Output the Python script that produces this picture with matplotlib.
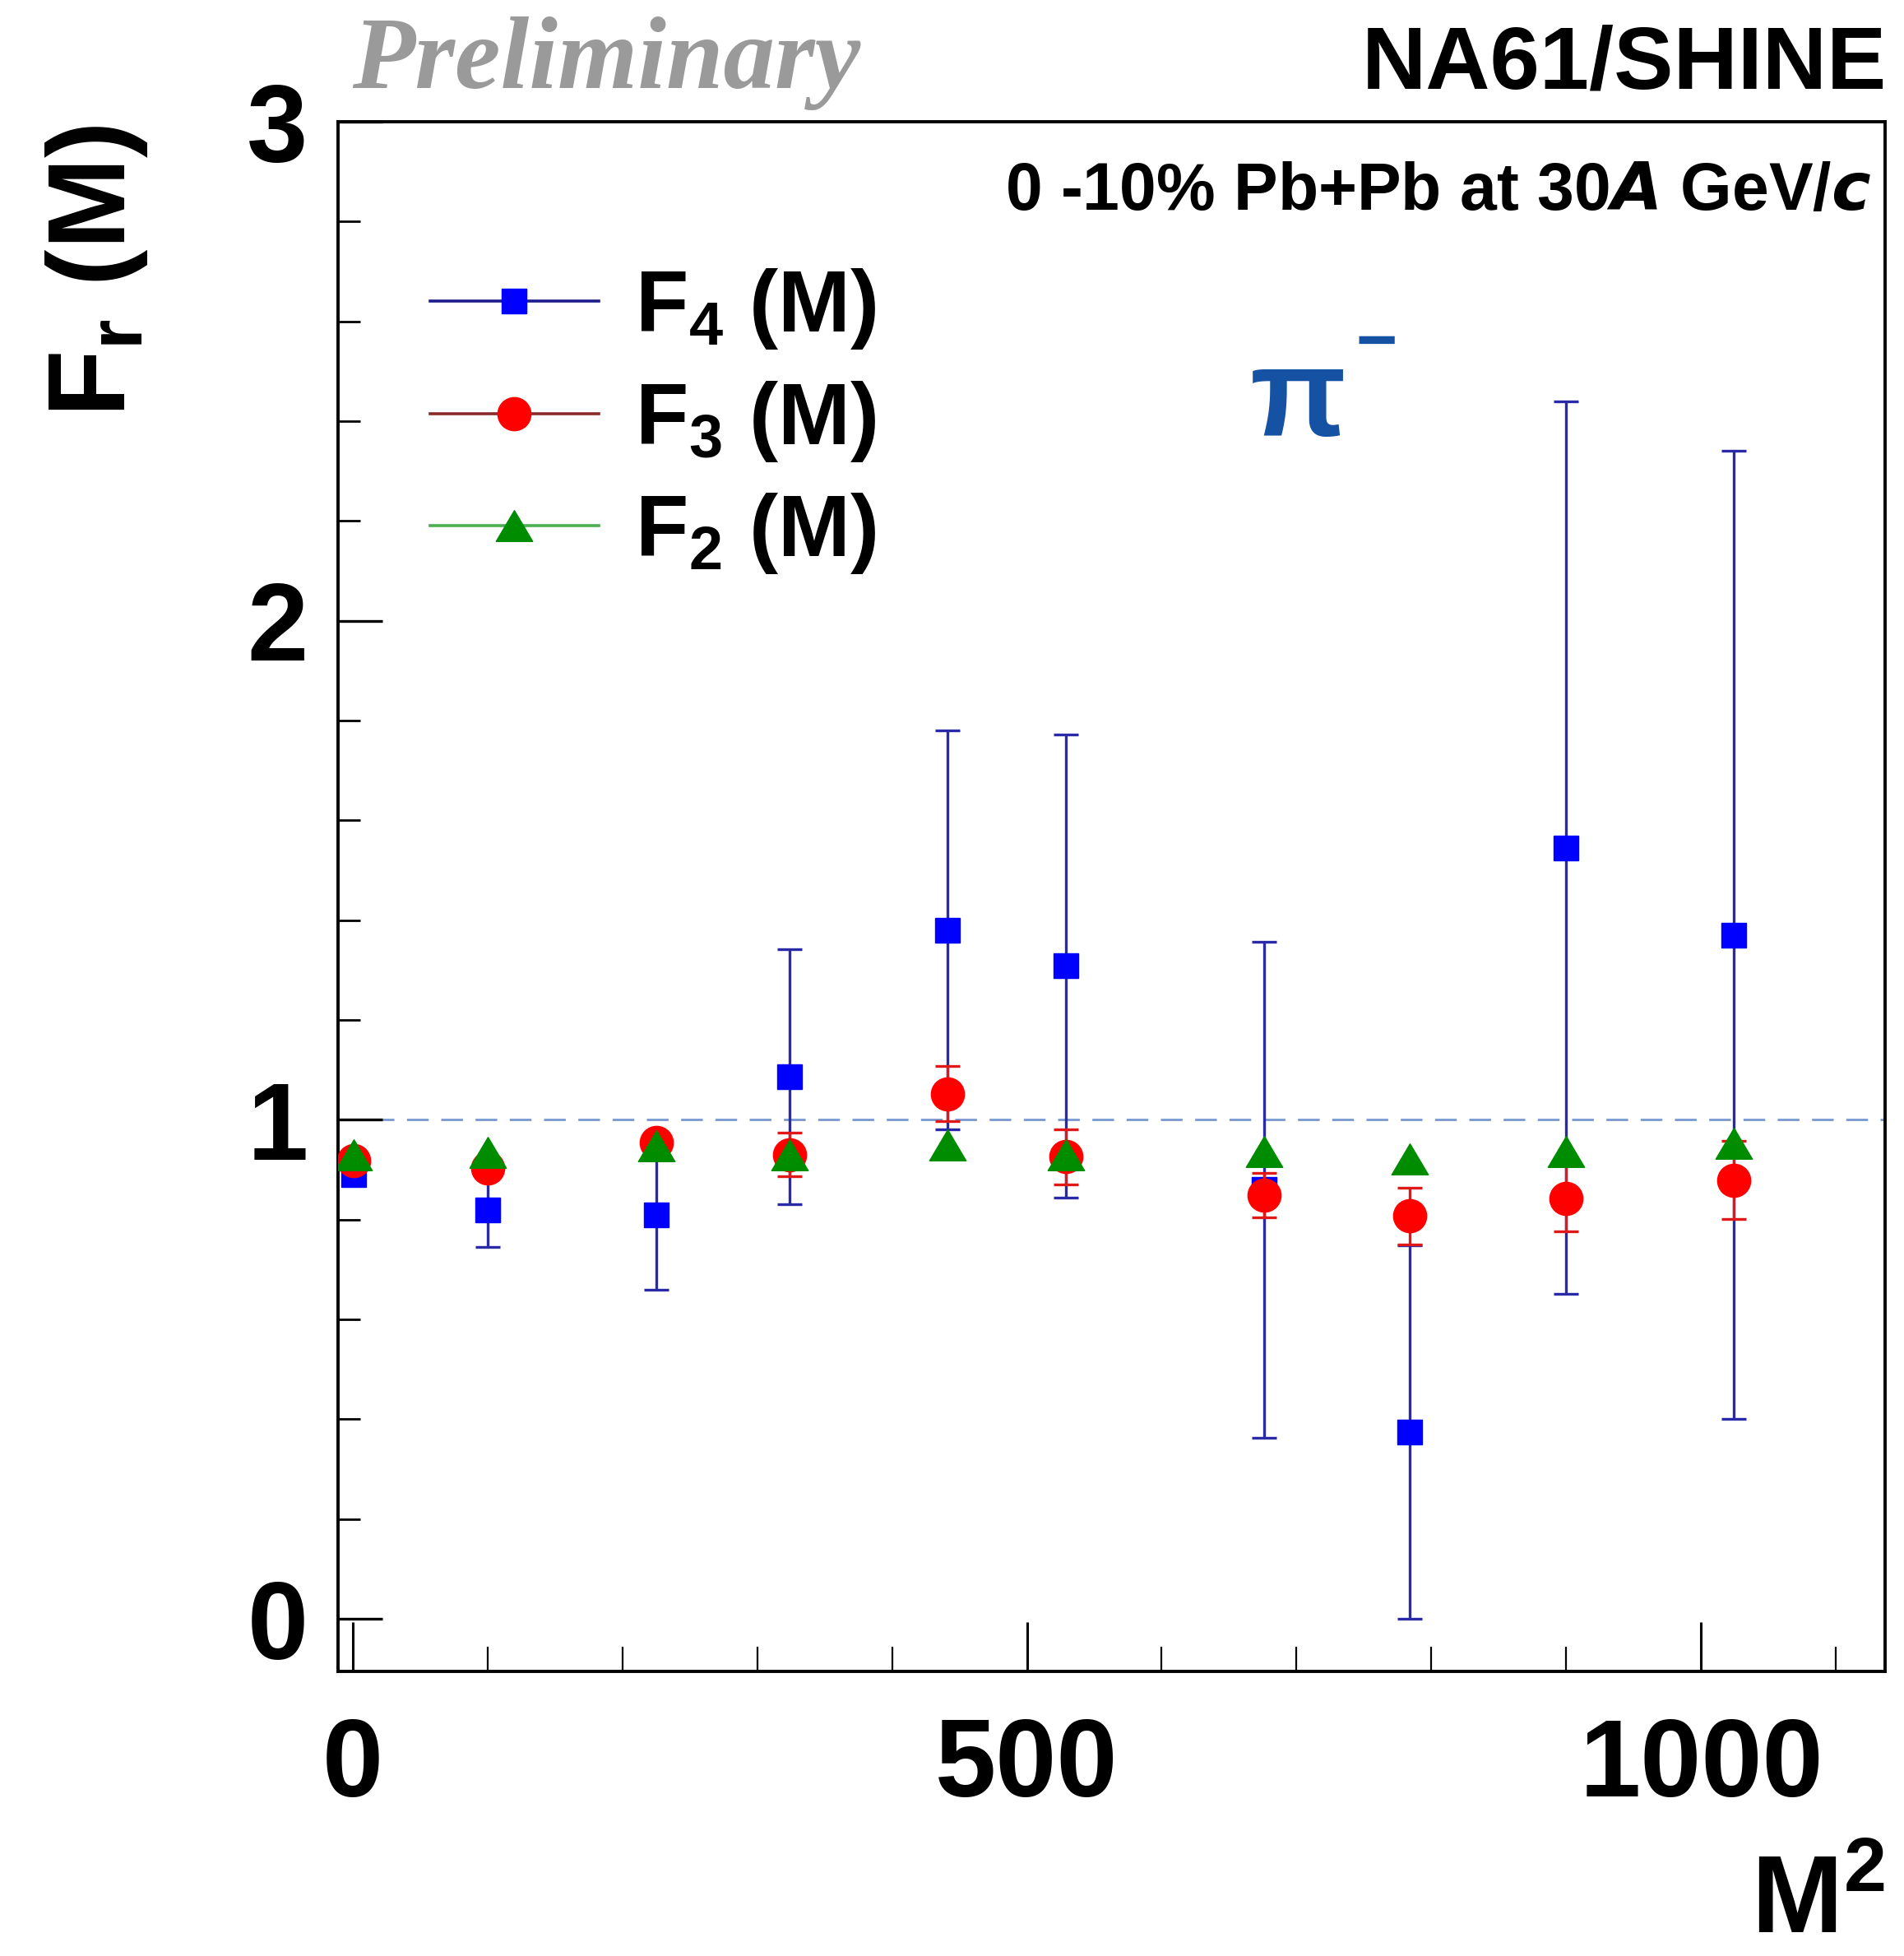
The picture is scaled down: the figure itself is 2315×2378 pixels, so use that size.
import matplotlib
matplotlib.use("Agg")
import matplotlib.pyplot as plt
from matplotlib.lines import Line2D
from matplotlib.path import Path
from matplotlib.ticker import MultipleLocator, FixedLocator
from matplotlib.font_manager import FontProperties

# ---------------- data ----------------
M2 = [1, 100, 225, 324, 441, 529, 676, 784, 900, 1024]
F4 = [0.89, 0.82, 0.81, 1.086, 1.38, 1.308, 0.86, 0.374, 1.545, 1.37]
F4_err = [0.02, 0.075, 0.15, 0.256, 0.40, 0.464, 0.497, 0.374, 0.894, 0.97]
F3 = [0.918, 0.904, 0.955, 0.93, 1.052, 0.926, 0.849, 0.807, 0.842, 0.879]
F3_err = [0.01, 0.012, 0.015, 0.044, 0.055, 0.055, 0.045, 0.057, 0.066, 0.078]
F2 = [0.93, 0.934, 0.947, 0.93, 0.95, 0.93, 0.937, 0.922, 0.937, 0.952]
F2_err = [0.004, 0.004, 0.004, 0.005, 0.005, 0.005, 0.006, 0.006, 0.007, 0.008]

labels = ["F$_{4}$ (M)", "F$_{3}$ (M)", "F$_{2}$ (M)"]
xticks = [0, 500, 1000]
yticks = [0, 1, 2, 3]

# ---------------- style ----------------
plt.rcParams['font.family'] = ['Liberation Sans', 'DejaVu Sans']
plt.rcParams['font.weight'] = 'bold'
plt.rcParams['mathtext.default'] = 'regular'

W, H = 2315, 2378
fig = plt.figure(figsize=(W / 100, H / 100), dpi=100)
L, R, T, B = 410.5, 2291.5, 148, 2031.7
ax = fig.add_axes([L / W, 1 - B / H, (R - L) / W, (B - T) / H])

ax.set_xlim(-11, 1136)
ax.set_ylim(-0.105, 3.0)

tri = Path([(-1, -0.845), (1, -0.845), (0, 0.845), (-1, -0.845)],
           [Path.MOVETO, Path.LINETO, Path.LINETO, Path.CLOSEPOLY])

# reference line
ax.axhline(1.0, color='#7898d0', lw=2.0, linestyle=(0, (9.5, 5.5)), zorder=1)

ax.errorbar(M2, F4, yerr=F4_err, fmt='s', ms=21, mfc='#0000ff', mec='#0000ff',
            ecolor='#2a2aa8', elinewidth=2.4, capsize=11, capthick=2.4, zorder=2)
ax.errorbar(M2, F3, yerr=F3_err, fmt='o', ms=29, mfc='#ff0000', mec='#ff0000',
            ecolor='#e01818', elinewidth=2.4, capsize=11, capthick=2.4, zorder=3)
ax.errorbar(M2, F2, yerr=F2_err, fmt='none', ecolor='#008c00', elinewidth=2.0,
            capsize=0, zorder=4)
ax.plot(M2, F2, linestyle='none', marker=tri, ms=32, mfc='#008c00', mec='#008c00', zorder=5)

# axes styling
for sp in ax.spines.values():
    sp.set_linewidth(2.8)
ax.xaxis.set_major_locator(FixedLocator(xticks))
ax.xaxis.set_minor_locator(MultipleLocator(100))
ax.yaxis.set_major_locator(FixedLocator(yticks))
ax.yaxis.set_minor_locator(MultipleLocator(0.2))
ax.tick_params(which='both', direction='in', top=False, right=False)
ax.tick_params(axis='x', which='major', length=43, width=2.2, labelsize=96, pad=40)
ax.tick_params(axis='x', which='minor', length=21.6, width=1.6)
ax.tick_params(axis='y', which='major', length=39, width=2.4, labelsize=96, pad=26)
ax.tick_params(axis='y', which='minor', length=19.5, width=2.0)
for lab in ax.get_xticklabels() + ax.get_yticklabels():
    lab.set_fontweight('bold')

# axis titles
fig.text(117 / W, 1 - 152 / H, "F$_{r}$ (M)", rotation=90, ha='center', va='top',
         fontsize=96, fontweight='bold')
fig.text(R / W, 0.0, "M$^{2}$", ha='right', va='bottom',
         fontsize=96, fontweight='bold')

# header texts
fig.text(428 / W, 1 - 107 / H, "Preliminary", ha='left', va='baseline',
         fontsize=90, family='Liberation Serif', style='italic', fontweight='bold',
         color='#9a9a9a')
fig.text(2294 / W, 1 - 107 / H, "NA61/SHINE", ha='right', va='baseline',
         fontsize=78, fontweight='bold')
fig.text(2275 / W, 1 - 255 / H, "0 -10% Pb+Pb at 30$\\mathit{A}$ GeV/$\\mathit{c}$",
         ha='right', va='baseline', fontsize=58, fontweight='bold')

# pi- annotation
fig.text(1520 / W, 1 - 530 / H, "π", ha='left', va='baseline', fontsize=110,
         fontweight='bold', color='#1552a3')
fig.text(1648 / W, 1 - 420 / H, "−", ha='left', va='center', fontsize=62,
         fontweight='bold', color='#1552a3')

# legend
handles = [
    Line2D([], [], color='#1c1c8c', lw=2.6, marker='s', ms=21, mfc='#0000ff', mec='#0000ff'),
    Line2D([], [], color='#8a2a2a', lw=2.6, marker='o', ms=29, mfc='#ff0000', mec='#ff0000'),
    Line2D([], [], color='#4caf50', lw=2.6, marker=tri, ms=32, mfc='#008c00', mec='#008c00'),
]
ax.legend(handles, labels, loc='center left', bbox_to_anchor=(523 / W, 1 - 512 / H),
          bbox_transform=fig.transFigure, frameon=False, handlelength=1.94,
          handletextpad=0.42, borderpad=0, borderaxespad=0, labelspacing=0.32,
          numpoints=1, prop=FontProperties(family='Liberation Sans', weight='bold', size=76))

fig.savefig('out.png', dpi=100)
